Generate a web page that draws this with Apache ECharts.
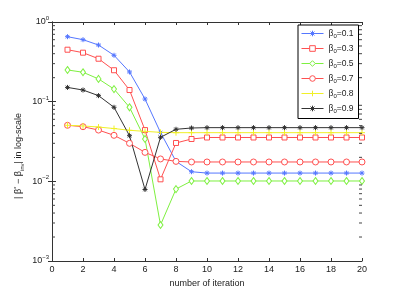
<!DOCTYPE html>
<html><head><meta charset="utf-8">
<script src="https://cdn.jsdelivr.net/npm/echarts@6/dist/echarts.min.js"></script>
<style>html,body{margin:0;padding:0;background:#fff}#c{width:399px;height:294px}</style>
</head><body><div id="c"></div>
<script>
const iterations = [1,2,3,4,5,6,7,8,9,10,11,12,13,14,15,16,17,18,19,20];
const seriesNames = ['β0=0.1','β0=0.3','β0=0.5','β0=0.7','β0=0.8','β0=0.9'];
const b01 = [0.654,0.600,0.514,0.382,0.236,0.108,0.041,0.0178,0.0132,0.0127,0.0127,0.0127,0.0127,0.0127,0.0127,0.0127,0.0127,0.0127,0.0127,0.0127];
const b03 = [0.449,0.412,0.346,0.248,0.140,0.044,0.0106,0.0303,0.034,0.0355,0.0355,0.0355,0.0355,0.0355,0.0355,0.0355,0.0355,0.0355,0.0355,0.0355];
const b05 = [0.250,0.234,0.193,0.144,0.085,0.034,0.00283,0.0080,0.0101,0.0101,0.0101,0.0101,0.0101,0.0101,0.0101,0.0101,0.0101,0.0101,0.0101,0.0101];
const b07 = [0.0505,0.0485,0.044,0.0378,0.030,0.0231,0.0191,0.0178,0.0175,0.0175,0.0175,0.0175,0.0175,0.0175,0.0175,0.0175,0.0175,0.0175,0.0175,0.0175];
const b08 = [0.0505,0.0496,0.048,0.046,0.0437,0.0424,0.0412,0.0408,0.0408,0.0408,0.0408,0.0408,0.0408,0.0408,0.0408,0.0408,0.0408,0.0408,0.0408,0.0408];
const b09 = [0.151,0.140,0.119,0.085,0.0374,0.0079,0.0357,0.045,0.0467,0.0472,0.0472,0.0472,0.0472,0.0472,0.0472,0.0472,0.0472,0.0472,0.0472,0.0472];
const xTicks = [0,2,4,6,8,10,12,14,16,18,20];
const yMinorTicks = [0.002,0.003,0.004,0.005,0.006,0.007,0.008,0.009,0.02,0.03,0.04,0.05,0.06,0.07,0.08,0.09,0.2,0.3,0.4,0.5,0.6,0.7,0.8,0.9];

const colors = ['#5577ff','#ff5050','#7ef040','#ff5050','#f0f028','#333333'];
const asterisk = 'path://M0,-4L0,4M-4,0L4,0M-2.8,-2.8L2.8,2.8M-2.8,2.8L2.8,-2.8';
const plus = 'path://M0,-4L0,4M-4,0L4,0';
const symbols = [asterisk,'rect','diamond','circle',plus,asterisk];
const hollow = [false,true,true,true,false,false];
const sizes = [5,5,[5,7],6,6,5];
const allData = [b01,b03,b05,b07,b08,b09];

const font = 'Liberation Sans, Arial, sans-serif';
const series = allData.map((d,i)=>({
  name: seriesNames[i],
  type: 'line',
  data: iterations.map((x,j)=>[x,d[j]]),
  symbol: symbols[i],
  symbolSize: sizes[i],
  showAllSymbol: true,
  color: colors[i],
  lineStyle: {color: colors[i], width: 1},
  itemStyle: {color: hollow[i] ? '#fff' : colors[i], borderColor: colors[i], borderWidth: 1},
  emphasis: {disabled: true},
  z: 3
}));
series.push({
  type: 'custom',
  silent: true,
  clip: false,
  xAxisIndex: 0, yAxisIndex: 0,
  encode: {x: 0, y: 1},
  data: yMinorTicks.map(v=>[xTicks[0],v]),
  renderItem: function(params, api){
    const v = api.value(1);
    const l = api.coord([xTicks[0], v]);
    const r = api.coord([xTicks[xTicks.length-1], v]);
    return {type:'group', children:[
      {type:'line', shape:{x1:l[0],y1:l[1],x2:l[0]+3,y2:l[1]}, style:{stroke:'#444',lineWidth:1}},
      {type:'line', shape:{x1:r[0],y1:r[1],x2:r[0]-3,y2:r[1]}, style:{stroke:'#444',lineWidth:1}}
    ]};
  },
  z: 5
});

const chart = echarts.init(document.getElementById('c'), null, {renderer:'canvas'});
chart.setOption({
  animation: false,
  backgroundColor: '#fff',
  textStyle: {fontFamily: font},
  grid: {left: 52, right: 37, top: 22, bottom: 33, containLabel: false},
  legend: {
    data: seriesNames,
    orient: 'vertical',
    left: 298, top: 25,
    padding: [4,5,4,3],
    itemGap: 4.5,
    itemWidth: 22, itemHeight: 7,
    lineStyle: {width: 1},
    itemStyle: {borderWidth: 1},
    borderColor: '#000', borderWidth: 1, backgroundColor: '#fff',
    textStyle: {fontFamily: font, fontSize: 8.5, color: '#222',
      rich: {b:{fontSize:8.5, fontFamily: font, color:'#222'}, s:{fontSize:6, fontFamily: font, color:'#222', padding:[6,0,0,0]}}},
    formatter: function(n){ return '{b|β}{s|0}{b|' + n.slice(2) + '}'; }
  },
  xAxis: [{
    type: 'value', min: 0, max: 20, interval: 2,
    name: 'number of iteration', nameLocation: 'middle', nameGap: 16,
    nameTextStyle: {fontFamily: font, fontSize: 9, color: '#222'},
    axisLine: {lineStyle: {color: '#333'}},
    axisTick: {inside: true, length: 3, lineStyle:{color:'#333'}},
    axisLabel: {fontFamily: font, fontSize: 9, color: '#222', margin: 4},
    splitLine: {show: false}
  },{
    type: 'value', min: 0, max: 20, interval: 2, position: 'top',
    axisLine: {lineStyle: {color: '#333'}},
    axisTick: {inside: true, length: 3, lineStyle:{color:'#333'}},
    axisLabel: {show: false},
    splitLine: {show: false}
  }],
  yAxis: [{
    type: 'log', logBase: 10, min: 0.001, max: 1,
    axisLine: {show: true, lineStyle: {color: '#333'}},
    axisTick: {show: true, inside: true, length: 4, lineStyle:{color:'#333'}},
    axisLabel: {fontFamily: font, fontSize: 9, color: '#222', margin: 3,
      formatter: function(v){ const e = Math.round(Math.log10(v)); return '{b|10}{s|' + (e===0?'0':'−'+(-e)) + '}'; },
      rich: {b:{fontSize:9, fontFamily: font, color:'#222'}, s:{fontSize:6, fontFamily: font, color:'#222', padding:[0,0,7,0]}}},
    splitLine: {show: false}
  },{
    type: 'log', logBase: 10, min: 0.001, max: 1, position: 'right',
    axisLine: {show: true, lineStyle: {color: '#333'}},
    axisTick: {show: true, inside: true, length: 4, lineStyle:{color:'#333'}},
    axisLabel: {show: false},
    splitLine: {show: false}
  }],
  graphic: [{
    type: 'text', x: 19, y: 156, rotation: Math.PI/2,
    style: {
      text: '{b|| β}{s|*}{b| − β}{u|inv}{b|| in log-scale}',
      fontFamily: font, fontSize: 9, fill: '#222', align: 'center', verticalAlign: 'middle',
      rich: {b:{fontSize:9, fontFamily: font, fill:'#222'}, s:{fontSize:6, fontFamily: font, fill:'#222', padding:[0,0,6,0]}, u:{fontSize:6, fontFamily: font, fill:'#222', padding:[6,0,0,0]}}
    }
  }],
  series: series
});
</script></body></html>
